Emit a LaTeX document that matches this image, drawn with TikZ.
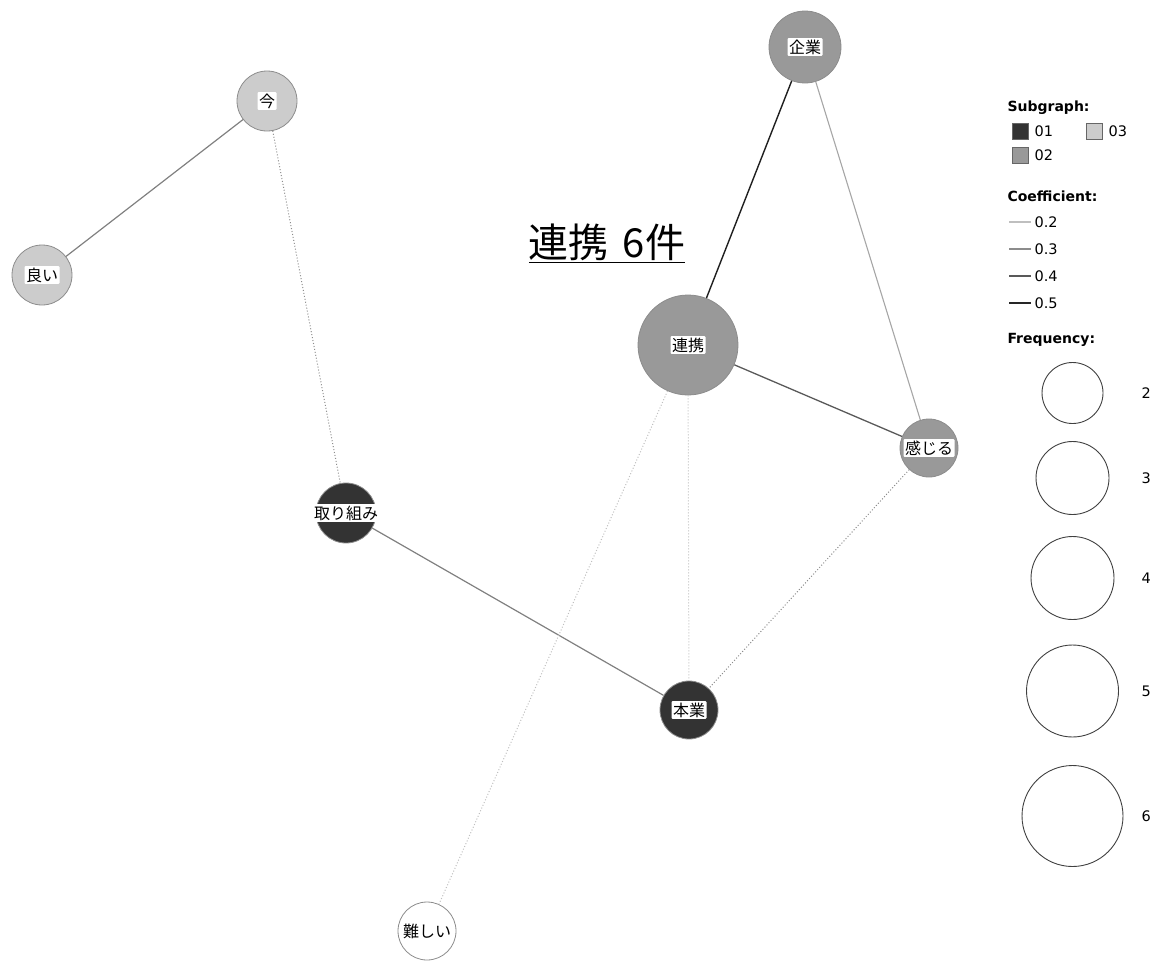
\documentclass[tikz,border=0pt]{standalone}
\usepackage{fontspec}
\setmainfont{DejaVu Sans}
\newfontfamily\cjk{Noto Sans CJK JP}
\definecolor{sgA}{HTML}{333333}
\definecolor{sgB}{HTML}{999999}
\definecolor{sgC}{HTML}{CCCCCC}
\begin{document}
\begin{tikzpicture}[x=1pt,y=-1pt,
  word/.style={circle,draw=gray!90,line width=0.8pt,inner sep=0pt},
  lbl/.style={fill=white,inner sep=1.5pt,rounded corners=1pt,font=\cjk\fontsize{16}{16}\selectfont},
  cA/.style={draw=black!88,line width=1.4pt},
  cB/.style={draw=black!65,line width=1.3pt},
  cC/.style={draw=black!50,line width=1.2pt},
  cD/.style={draw=black!35,line width=1.1pt},
  weak/.style={draw=black!45,line width=1pt,dotted},
  weaker/.style={draw=black!25,line width=1pt,dotted},
  lgh/.style={anchor=west,font=\bfseries\fontsize{14}{14}\selectfont},
  lgt/.style={anchor=west,font=\fontsize{14.5}{14.5}\selectfont},
  fc/.style={circle,draw=black!75,line width=0.9pt,inner sep=0pt}]
\useasboundingbox (0,0) rectangle (1156,961);
% nodes
\node[word,fill=sgB,minimum size=72] (kigyo) at (805,47) {};
\node[word,fill=sgC,minimum size=60] (ima) at (267,101) {};
\node[word,fill=sgC,minimum size=60] (yoi) at (42,275) {};
\node[word,fill=sgB,minimum size=100] (renkei) at (688,345) {};
\node[word,fill=sgB,minimum size=58] (kanjiru) at (929,448) {};
\node[word,fill=sgA,minimum size=60] (torikumi) at (346,513) {};
\node[word,fill=sgA,minimum size=58] (hongyo) at (689,710) {};
\node[word,fill=white,minimum size=58] (muzu) at (427,931) {};
% edges
\path[cA] (kigyo) -- (renkei);
\path[cD] (kigyo) -- (kanjiru);
\path[cB] (renkei) -- (kanjiru);
\path[cC] (ima) -- (yoi);
\path[cC] (torikumi) -- (hongyo);
\path[weak] (ima) -- (torikumi);
\path[weak] (kanjiru) -- (hongyo);
\path[weaker] (renkei) -- (hongyo);
\path[weaker] (renkei) -- (muzu);
% labels
\node[lbl] (lkigyo) at (kigyo) {企業};
\node[lbl] (lima) at (ima) {今};
\node[lbl] (lyoi) at (yoi) {良い};
\node[lbl] (lrenkei) at (renkei) {連携};
\node[lbl] (lkanjiru) at (kanjiru) {感じる};
\node[lbl] (ltorikumi) at (torikumi) {取り組み};
\node[lbl] (lhongyo) at (hongyo) {本業};
\node[lbl] (lmuzu) at (muzu) {難しい};
% title
\node[font=\cjk\fontsize{40}{40}\selectfont,inner sep=0pt] (title) at (607,243) {\underline{連携\hspace{0.35em}6件}};
% legend
\node[lgh] (hsub) at (1004,108) {Subgraph:};
\node[draw=black!60,fill=sgA,minimum size=16,inner sep=0pt] (s1) at (1020,131) {};
\node[lgt] (t1) at ([xshift=3pt]s1.east) {01};
\node[draw=black!60,fill=sgC,minimum size=16,inner sep=0pt] (s3) at (1094,131) {};
\node[lgt] (t3) at ([xshift=3pt]s3.east) {03};
\node[draw=black!60,fill=sgB,minimum size=16,inner sep=0pt] (s2) at (1020,155) {};
\node[lgt] (t2) at ([xshift=3pt]s2.east) {02};
\node[lgh] (hcoef) at (1004,196) {Coefficient:};
\coordinate (c2a) at (1009,222); \coordinate (c2b) at (1031,222);
\coordinate (c3a) at (1009,249); \coordinate (c3b) at (1031,249);
\coordinate (c4a) at (1009,276); \coordinate (c4b) at (1031,276);
\coordinate (c5a) at (1009,303); \coordinate (c5b) at (1031,303);
\draw[draw=black!25,line width=1.1pt] (c2a) -- (c2b);
\draw[draw=black!45,line width=1.2pt] (c3a) -- (c3b);
\draw[draw=black!65,line width=1.3pt] (c4a) -- (c4b);
\draw[draw=black!85,line width=1.4pt] (c5a) -- (c5b);
\node[lgt] (l2) at (1031,222) {0.2};
\node[lgt] (l3) at (1031,249) {0.3};
\node[lgt] (l4) at (1031,276) {0.4};
\node[lgt] (l5) at (1031,303) {0.5};
\node[lgh] (hfreq) at (1004,340) {Frequency:};
\node[fc,minimum size=61] (f2) at (1072.5,393) {};
\node[fc,minimum size=73] (f3) at (1072.5,478) {};
\node[fc,minimum size=83] (f4) at (1072.5,578) {};
\node[fc,minimum size=92] (f5) at (1072.5,691) {};
\node[fc,minimum size=101] (f6) at (1072.5,816) {};
\node[lgt] (n2) at (1138,393) {2};
\node[lgt] (n3) at (1138,478) {3};
\node[lgt] (n4) at (1138,578) {4};
\node[lgt] (n5) at (1138,691) {5};
\node[lgt] (n6) at (1138,816) {6};
\end{tikzpicture}
\end{document}
